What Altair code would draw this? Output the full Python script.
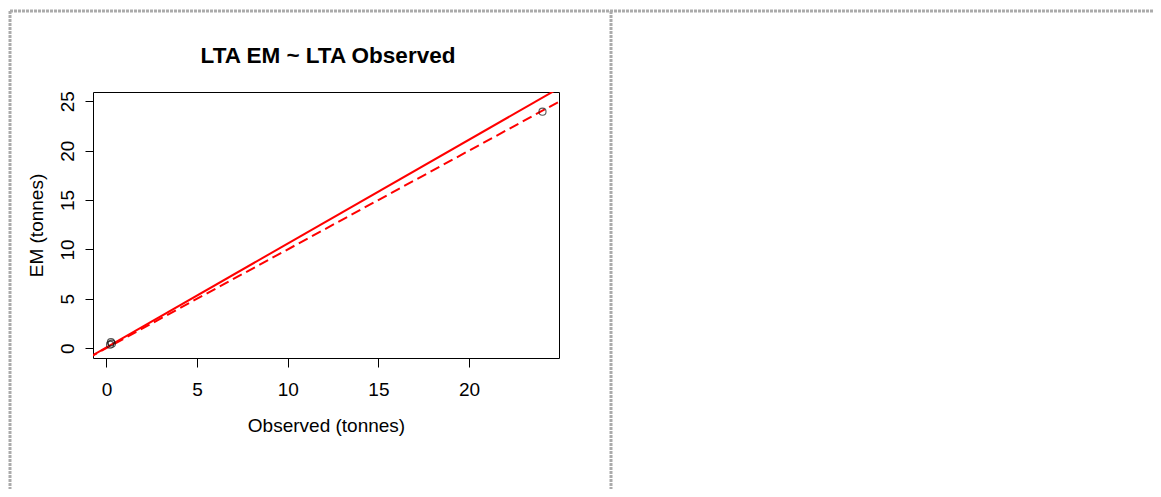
import altair as alt
import pandas as pd

# ---- data ----
observed = [0.20, 0.25, 0.30, 24.05]
em = [0.35, 0.60, 0.45, 23.95]
x_ticks = [0, 5, 10, 15, 20]
y_ticks = [0, 5, 10, 15, 20, 25]
x_domain = [-0.74, 24.96]
y_domain = [-1.0, 25.94]
line_names = ["fit", "one_to_one"]
line_intercepts = [0.07, 0.0]
line_slopes = [1.052, 1.0]
title_text = "LTA EM ~ LTA Observed"

FONT = "Liberation Sans"
W, H = 466, 266
PAD_L, PAD_T = 85, 84
TOTAL_W, TOTAL_H = 1145, 481
BORDER = "#ababab"

pts = pd.DataFrame({"Observed": observed, "EM": em})
rows = []
for n, a, b in zip(line_names, line_intercepts, line_slopes):
    for xv in [x_domain[0] - 1, x_domain[1] + 1]:
        rows.append({"line": n, "Observed": xv, "EM": a + b * xv})
lines = pd.DataFrame(rows)

xscale = alt.Scale(domain=x_domain, nice=False, zero=False)
yscale = alt.Scale(domain=y_domain, nice=False, zero=False)

xaxis = alt.Axis(title="Observed (tonnes)", values=x_ticks, domain=False, grid=False,
                 tickSize=9, tickColor="black", tickWidth=1,
                 labelFont=FONT, labelFontSize=19, labelColor="black", labelPadding=13,
                 labelFlush=False, labelOverlap=False,
                 titleFont=FONT, titleFontSize=19, titleFontWeight="normal",
                 titleColor="black", titlePadding=17)
yaxis = alt.Axis(title="EM (tonnes)", values=y_ticks, domain=False, grid=False,
                 tickSize=8, tickColor="black", tickWidth=1,
                 labelFont=FONT, labelFontSize=19, labelColor="black", labelPadding=8,
                 labelAngle=270, labelAlign="center", labelBaseline="bottom",
                 labelFlush=False, labelOverlap=False,
                 titleFont=FONT, titleFontSize=19, titleFontWeight="normal",
                 titleColor="black", titlePadding=12)

X = alt.X("Observed:Q", scale=xscale, axis=xaxis)
Y = alt.Y("EM:Q", scale=yscale, axis=yaxis)

base_lines = alt.Chart(lines)
solid = base_lines.transform_filter(alt.datum.line == "fit").mark_line(
    color="#ff0000", strokeWidth=2, clip=True).encode(x=X, y=Y)
dashed = base_lines.transform_filter(alt.datum.line == "one_to_one").mark_line(
    color="#ff0000", strokeWidth=2, strokeDash=[10, 5], clip=True).encode(x=X, y=Y)
points = alt.Chart(pts).mark_point(shape="circle", filled=False, size=50,
                                   color="#111111", strokeWidth=1.1).encode(x=X, y=Y)

# chart title as a text layer (centred over the plot area)
title = alt.Chart(pts.head(1)).mark_text(
    font=FONT, fontSize=22.5, fontWeight="bold", color="black",
    align="center", baseline="alphabetic").encode(
    x=alt.value(W / 2 + 2), y=alt.value(63 - 92), text=alt.value(title_text))

# decorative panel borders (page frame), in pixels relative to the plot origin
lx, ty, div_x, rx, by = 10 - 93, 11 - 92, 611 - 93, 1153 - 93, 489 - 92
bstyle = dict(color=BORDER, strokeWidth=3, strokeDash=[3, 1])
top_b = alt.Chart(pts.head(1)).mark_rule(**bstyle).encode(
    x=alt.value(lx), x2=alt.value(rx), y=alt.value(ty))
left_b = alt.Chart(pts.head(1)).mark_rule(**bstyle).encode(
    x=alt.value(lx), y=alt.value(ty), y2=alt.value(by))
div_b = alt.Chart(pts.head(1)).mark_rule(**bstyle).encode(
    x=alt.value(div_x), y=alt.value(ty), y2=alt.value(by))

chart = alt.layer(top_b, left_b, div_b, solid, dashed, points, title).properties(
    width=W, height=H,
    autosize=alt.AutoSizeParams(type="none"),
    padding={"left": PAD_L, "top": PAD_T, "right": TOTAL_W - PAD_L - W,
             "bottom": TOTAL_H - PAD_T - H},
    background="white",
).configure_view(stroke="black", strokeWidth=1)

chart.save("out.html", embed_options={"renderer": "svg", "actions": False})
